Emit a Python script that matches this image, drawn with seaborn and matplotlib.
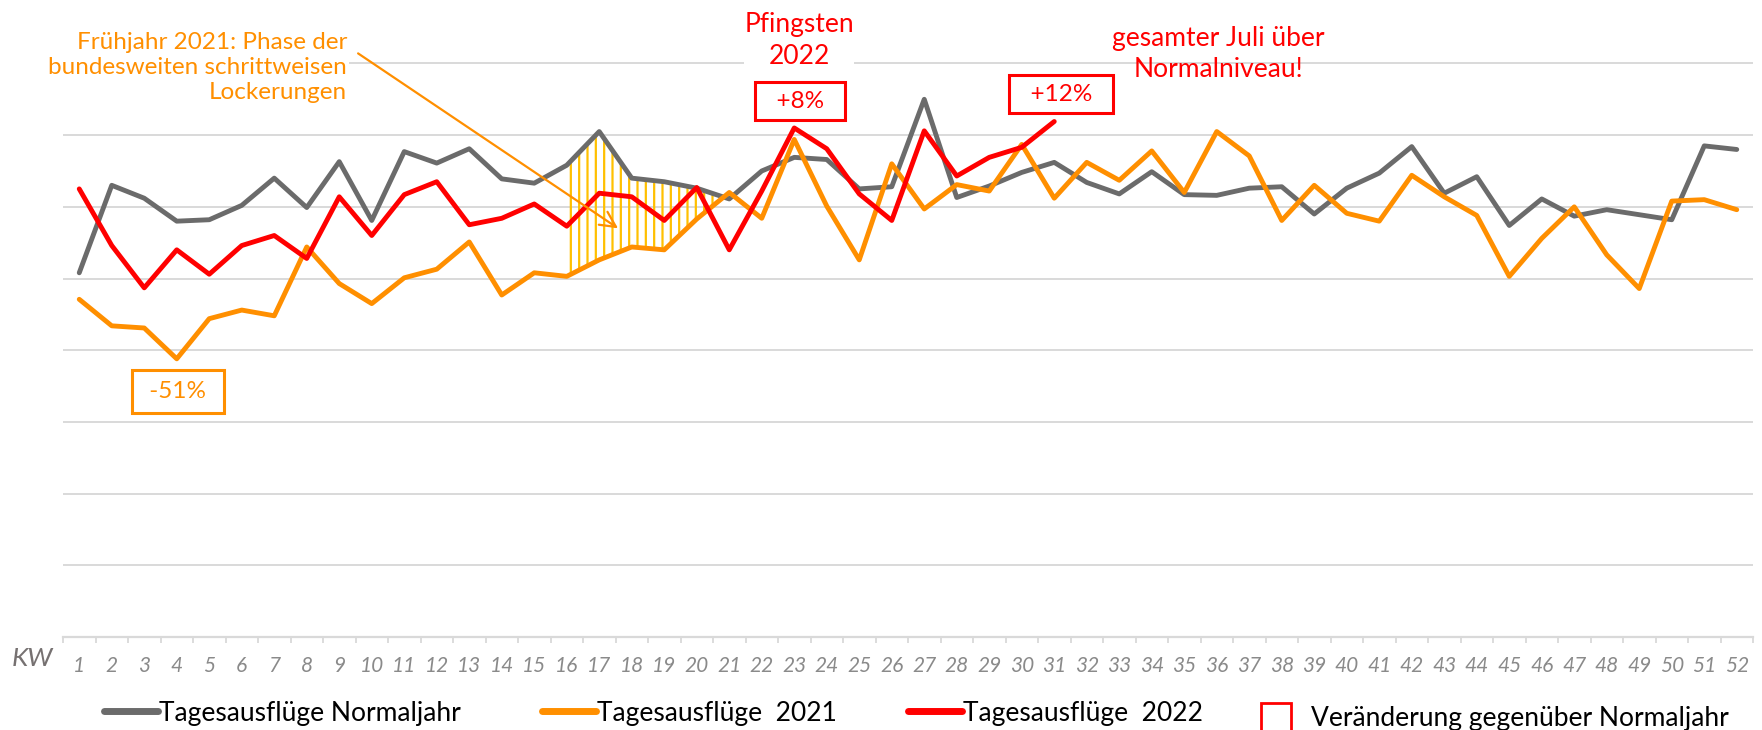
import numpy as np
import pandas as pd
import matplotlib
matplotlib.use("Agg")
import matplotlib.pyplot as plt
import seaborn as sns
from matplotlib.lines import Line2D
from matplotlib.patches import Patch

# ---------------- data ----------------
kw = list(range(1, 53))
tick_labels = [str(k) for k in kw]

normaljahr = [5.08, 6.30, 6.12, 5.80, 5.82, 6.02, 6.40, 5.99, 6.63, 5.81,
              6.77, 6.61, 6.81, 6.39, 6.33, 6.58, 7.05, 6.40, 6.35, 6.26,
              6.11, 6.50, 6.69, 6.66, 6.25, 6.28, 7.50, 6.13, 6.29, 6.48,
              6.62, 6.34, 6.18, 6.49, 6.17, 6.16, 6.26, 6.28, 5.90, 6.26,
              6.47, 6.84, 6.19, 6.42, 5.74, 6.11, 5.87, 5.96, 5.89, 5.82,
              6.85, 6.80]

jahr2021 = [4.71, 4.34, 4.31, 3.88, 4.44, 4.56, 4.48, 5.44, 4.93, 4.65,
            5.01, 5.13, 5.51, 4.77, 5.08, 5.03, 5.26, 5.44, 5.40, 5.83,
            6.20, 5.84, 6.94, 6.01, 5.26, 6.60, 5.97, 6.31, 6.22, 6.87,
            6.12, 6.62, 6.37, 6.78, 6.20, 7.05, 6.71, 5.81, 6.30, 5.91,
            5.80, 6.44, 6.14, 5.88, 5.03, 5.56, 6.00, 5.33, 4.86, 6.08,
            6.10, 5.96]

jahr2022 = [6.25, 5.46, 4.87, 5.40, 5.06, 5.46, 5.60, 5.28, 6.14, 5.60,
            6.17, 6.35, 5.75, 5.84, 6.04, 5.73, 6.19, 6.14, 5.81, 6.27,
            5.40, 6.22, 7.10, 6.81, 6.18, 5.81, 7.06, 6.43, 6.69, 6.83,
            7.19]

series_names = ["Tagesausflüge Normaljahr", "Tagesausflüge  2021", "Tagesausflüge  2022"]
box_label = "Veränderung gegenüber Normaljahr"
lock_start, lock_end = 16, 21   # Frühjahr 2021 Lockerungsphase (KW)

GREY = "#6B6B6B"
ORANGE = "#FF8F00"
RED = "#FF0000"
HATCH = "#FFC000"
GRID = "#D9D9D9"

# ---------------- style ----------------
sns.set_theme(style="white")
plt.rcParams["font.family"] = ["Lato", "DejaVu Sans"]
plt.rcParams["hatch.linewidth"] = 1.6
plt.rcParams["hatch.color"] = HATCH

W, H = 1762, 730
fig = plt.figure(figsize=(W / 100, H / 100), dpi=100)
ax = fig.add_axes([63 / W, (H - 637) / H, (1753 - 63) / W, (637 - 62) / H])

df = pd.concat([
    pd.DataFrame({"KW": kw, "Wert": normaljahr, "Serie": series_names[0]}),
    pd.DataFrame({"KW": kw, "Wert": jahr2021, "Serie": series_names[1]}),
    pd.DataFrame({"KW": kw[:len(jahr2022)], "Wert": jahr2022, "Serie": series_names[2]}),
], ignore_index=True)

palette = {series_names[0]: GREY, series_names[1]: ORANGE, series_names[2]: RED}

# hatched area between Normaljahr and 2021 during the Lockerungsphase
x_arr = np.array(kw, dtype=float)
n_arr = np.array(normaljahr)
o_arr = np.array(jahr2021)
sel = (x_arr >= lock_start) & (x_arr <= lock_end)
xs, ns, os_ = x_arr[sel], n_arr[sel], o_arr[sel]
ax.fill_between(xs, os_, ns, where=ns >= os_, interpolate=True,
                facecolor="none", edgecolor=HATCH, hatch="||", linewidth=0, zorder=1)

sns.lineplot(data=df, x="KW", y="Wert", hue="Serie", palette=palette,
             hue_order=series_names, linewidth=3.5, legend=False, ax=ax,
             estimator=None, sort=False, solid_joinstyle="round",
             solid_capstyle="round", zorder=3)

# ---------------- axes ----------------
ax.set_xlim(0.5, 52.5)
ax.set_ylim(0, 8.02)
ax.set_yticks(range(0, 9))
ax.yaxis.grid(True, color=GRID, linewidth=1.4)
ax.xaxis.grid(False)
ax.tick_params(axis="y", left=False, labelleft=False)
ax.set_xlabel("")
ax.set_ylabel("")
ax.set_xticks(kw)
ax.set_xticklabels(tick_labels)
ax.set_xticks(np.arange(0.5, 53, 1), minor=True)
ax.tick_params(axis="x", which="major", length=0, pad=14, labelsize=15,
               labelcolor="#8A8A8A", bottom=False)
ax.tick_params(axis="x", which="minor", length=4, width=1.3, color=GRID, bottom=True)
for lab in ax.get_xticklabels():
    lab.set_fontstyle("italic")
for s in ["top", "right", "left"]:
    ax.spines[s].set_visible(False)
ax.spines["bottom"].set_color(GRID)
ax.spines["bottom"].set_linewidth(1.6)

fig.text(12 / W, (H - 659) / H, "KW", fontsize=19, fontstyle="italic",
         color="#767171", va="center", ha="left")

# ---------------- annotations ----------------
ax.text(9.24, 7.94, "Frühjahr 2021: Phase der\nbundesweiten schrittweisen\nLockerungen",
        ha="right", va="center", multialignment="right", fontsize=17.5,
        color=ORANGE, linespacing=1.22, clip_on=False, zorder=5,
        bbox=dict(facecolor="white", edgecolor="none", pad=1))
ax.annotate("", xy=(17.58, 5.70), xytext=(9.58, 8.14),
            arrowprops=dict(arrowstyle="->", color=ORANGE, lw=1.6,
                            mutation_scale=28, shrinkA=0, shrinkB=0),
            annotation_clip=False, zorder=4)

ax.text(23.15, 8.32, "Pfingsten\n2022", ha="center", va="center",
        multialignment="center", fontsize=19, color=RED, linespacing=1.35,
        clip_on=False, zorder=5,
        bbox=dict(facecolor="white", edgecolor="none", pad=0))
ax.text(36.04, 8.13, "gesamter Juli über\nNormalniveau!", ha="center", va="center",
        multialignment="center", fontsize=19, color=RED, linespacing=1.3,
        clip_on=False, zorder=5)

box_kw = dict(facecolor="white", linewidth=2.2, boxstyle="square,pad=0.35")
ax.text(23.18, 7.47, "  +8%  ", ha="center", va="center", fontsize=17.5,
        color=RED, clip_on=False, zorder=5, bbox=dict(edgecolor=RED, **box_kw))
ax.text(31.21, 7.57, "  +12%  ", ha="center", va="center", fontsize=17.5,
        color=RED, clip_on=False, zorder=5, bbox=dict(edgecolor=RED, **box_kw))
ax.text(4.04, 3.42, " -51% ", ha="center", va="center", fontsize=17.5,
        color=ORANGE, clip_on=False, zorder=5,
        bbox=dict(edgecolor=ORANGE, facecolor="white", linewidth=2.2,
                  boxstyle="square,pad=0.45"))

# ---------------- legend ----------------
fs = 19
fs_px = fs * 100 / 72
leg_y = (H - 713) / H
entries = [
    (Line2D([], [], color=GREY, lw=5, solid_capstyle="round"), series_names[0], 104),
    (Line2D([], [], color=ORANGE, lw=5, solid_capstyle="round"), series_names[1], 542),
    (Line2D([], [], color=RED, lw=5, solid_capstyle="round"), series_names[2], 908),
]
for handle, label, x0 in entries:
    lg = fig.legend([handle], [label], loc="center left",
                    bbox_to_anchor=(x0 / W, leg_y), frameon=False, fontsize=fs,
                    borderpad=0, borderaxespad=0, handlelength=54 / fs_px,
                    handletextpad=0.05)
    for t in lg.get_texts():
        t.set_color("black")
lg = fig.legend([Patch(facecolor="white", edgecolor=RED, linewidth=2)], [box_label],
                loc="center left", bbox_to_anchor=(1261 / W, (H - 717) / H),
                frameon=False, fontsize=fs, borderpad=0, borderaxespad=0,
                handlelength=30 / fs_px, handleheight=34 / fs_px, handletextpad=0.75)
for t in lg.get_texts():
    t.set_color("black")

fig.savefig("out.png", dpi=100, facecolor="white")
